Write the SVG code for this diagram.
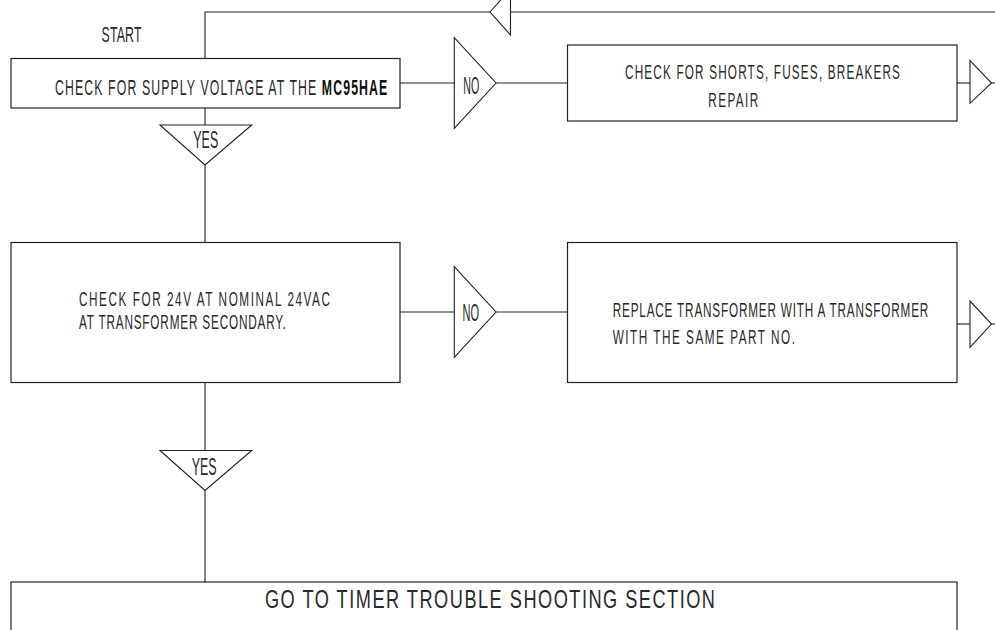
<svg xmlns="http://www.w3.org/2000/svg" width="995" height="630" viewBox="0 0 995 630">
<style>
.box{fill:#fff;stroke:#222;stroke-width:1.2}
.tri{fill:#fff;stroke:#222;stroke-width:1.1}
.ln{fill:none;stroke:#222;stroke-width:1.1}
text{font-family:"Liberation Sans",Arial,sans-serif;font-size:21px;fill:#2a2a2a}
.l{font-size:22px}
.lab{font-size:23px}
.b{font-weight:bold;fill:#111}
.big{font-size:26px}
</style>
<rect width="995" height="630" fill="#fff"/>
<g id="connectors">
<polyline class="ln" points="995,12 205,12 205,58.5"/>
<line class="ln" x1="205" y1="108" x2="205" y2="125"/>
<line class="ln" x1="205" y1="165" x2="205" y2="242.5"/>
<line class="ln" x1="205" y1="382.5" x2="205" y2="450.5"/>
<line class="ln" x1="205" y1="490.5" x2="205" y2="582"/>
<line class="ln" x1="400" y1="83" x2="454" y2="83"/>
<line class="ln" x1="496" y1="83" x2="567.5" y2="83"/>
<line class="ln" x1="957" y1="83" x2="970" y2="83"/>
<line class="ln" x1="991" y1="83" x2="995" y2="83"/>
<line class="ln" x1="400" y1="312" x2="454" y2="312"/>
<line class="ln" x1="496" y1="312" x2="567.5" y2="312"/>
<line class="ln" x1="957" y1="324" x2="970" y2="324"/>
<line class="ln" x1="991" y1="324" x2="995" y2="324"/>
<polygon class="tri" points="490,12 510.5,-11 510.5,35"/>
</g>
<g id="start">
<text class="l" transform="translate(101.5,41.5) scale(0.56,1)" textLength="71.4" lengthAdjust="spacing">START</text>
</g>
<g id="check-supply">
<rect class="box" x="11" y="58.5" width="389" height="49.5"/>
<text class="l" transform="translate(55,95) scale(0.56,1)" textLength="593.4" lengthAdjust="spacing">CHECK FOR SUPPLY VOLTAGE AT THE <tspan class="b">MC95HAE</tspan></text>
</g>
<g id="no-1">
<polygon class="tri" points="454.3,37.7 454.3,128.3 496,83"/>
<text class="lab" transform="translate(463.3,94) scale(0.56,1)" textLength="28.6" lengthAdjust="spacingAndGlyphs">NO</text>
</g>
<g id="check-shorts">
<rect class="box" x="567.5" y="45" width="389.5" height="76"/>
<text transform="translate(625,79) scale(0.56,1)" textLength="491" lengthAdjust="spacing">CHECK FOR SHORTS, FUSES, BREAKERS</text>
<text transform="translate(708.3,106.5) scale(0.56,1)" textLength="89.3" lengthAdjust="spacing">REPAIR</text>
</g>
<g id="out-1">
<polygon class="tri" points="970,60.7 970,103.3 991.5,83"/>
</g>
<g id="yes-1">
<polygon class="tri" points="160,125 251.7,125 205,165"/>
<text class="lab" transform="translate(193.3,148) scale(0.56,1)" textLength="44.6" lengthAdjust="spacingAndGlyphs">YES</text>
</g>
<g id="check-24v">
<rect class="box" x="11" y="242.5" width="389" height="140"/>
<text transform="translate(79,306) scale(0.56,1)" textLength="448.2" lengthAdjust="spacing">CHECK FOR 24V AT NOMINAL 24VAC</text>
<text transform="translate(79,329) scale(0.56,1)" textLength="369.1" lengthAdjust="spacing">AT TRANSFORMER SECONDARY.</text>
</g>
<g id="no-2">
<polygon class="tri" points="454.3,266.7 454.3,357.3 496,312"/>
<text class="lab" transform="translate(462.5,320.5) scale(0.56,1)" textLength="29.5" lengthAdjust="spacingAndGlyphs">NO</text>
</g>
<g id="replace-transformer">
<rect class="box" x="567.5" y="242.5" width="389.5" height="140"/>
<text transform="translate(612.7,317) scale(0.56,1)" textLength="563.6" lengthAdjust="spacing">REPLACE TRANSFORMER WITH A TRANSFORMER</text>
<text transform="translate(612.7,344) scale(0.56,1)" textLength="325.5" lengthAdjust="spacing">WITH THE SAME PART NO.</text>
</g>
<g id="out-2">
<polygon class="tri" points="970,301 970,347.3 991.5,324"/>
</g>
<g id="yes-2">
<polygon class="tri" points="160,450.5 251.7,450.5 205,490.5"/>
<text class="lab" transform="translate(191.7,475) scale(0.56,1)" textLength="44.6" lengthAdjust="spacingAndGlyphs">YES</text>
</g>
<g id="timer-section">
<rect class="box" x="11" y="582" width="946" height="60"/>
<text class="big" transform="translate(265,607.5) scale(0.7,1)" textLength="642.9" lengthAdjust="spacing">GO TO TIMER TROUBLE SHOOTING SECTION</text>
</g>
</svg>
